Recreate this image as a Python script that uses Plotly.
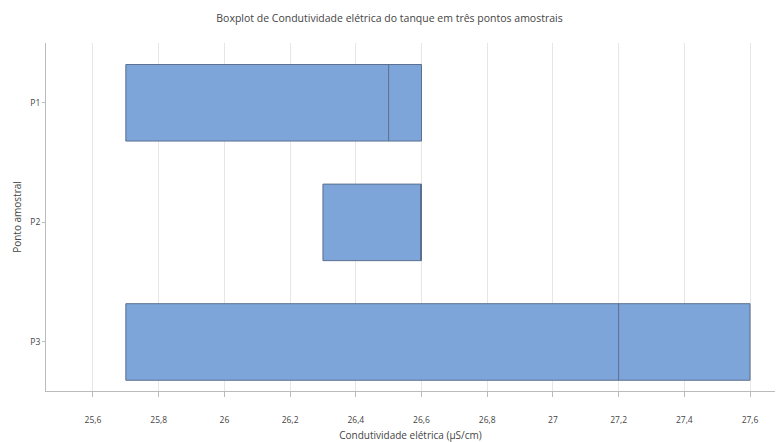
import plotly.graph_objects as go

categories = ["P1", "P2", "P3"]
q1 = [25.7, 26.3, 25.7]
median = [26.5, 26.6, 27.2]
q3 = [26.6, 26.6, 27.6]
x_ticks = [25.6, 25.8, 26.0, 26.2, 26.4, 26.6, 26.8, 27.0, 27.2, 27.4, 27.6]
x_tick_labels = ["25,6", "25,8", "26", "26,2", "26,4", "26,6", "26,8", "27", "27,2", "27,4", "27,6"]

fig = go.Figure()
fig.add_trace(go.Box(
    y=categories,
    q1=q1,
    median=median,
    q3=q3,
    lowerfence=q1,
    upperfence=q3,
    orientation="h",
    width=0.64,
    whiskerwidth=0,
    fillcolor="#7DA5D9",
    line=dict(color="#5B6F8E", width=1),
    boxpoints=False,
    hoverinfo="x",
    showlegend=False,
))

font_family = "Open Sans, Liberation Sans, sans-serif"
fig.update_layout(
    width=779,
    height=442,
    margin=dict(l=46, r=4, t=43, b=51),
    paper_bgcolor="white",
    plot_bgcolor="white",
    title=dict(
        text="Boxplot de Condutividade elétrica do tanque em três pontos amostrais",
        x=0.5, xanchor="center", y=0.958, yanchor="middle",
        font=dict(family=font_family, size=10.5, color="#444444"),
    ),
    xaxis=dict(
        range=[25.457, 27.676],
        tickvals=x_ticks,
        ticktext=x_tick_labels,
        automargin=False,
        showgrid=True,
        gridcolor="#E6E6E6",
        gridwidth=1,
        zeroline=False,
        showline=True,
        linecolor="#BBBBBB",
        linewidth=1,
        ticks="outside",
        ticklen=5,
        tickcolor="#BBBBBB",
        ticklabelstandoff=16,
        tickfont=dict(family=font_family, size=8.5, color="#444444"),
        title=dict(text="Condutividade elétrica (µS/cm)", standoff=7,
                   font=dict(family=font_family, size=10, color="#444444")),
        fixedrange=True,
    ),
    yaxis=dict(
        type="category",
        categoryorder="array",
        categoryarray=categories,
        range=[2.41, -0.5],
        automargin=False,
        showgrid=False,
        zeroline=False,
        showline=True,
        linecolor="#BBBBBB",
        linewidth=1,
        ticks="outside",
        ticklen=3,
        tickcolor="#BBBBBB",
        tickfont=dict(family=font_family, size=8.5, color="#444444"),
        title=dict(text="Ponto amostral", standoff=6,
                   font=dict(family=font_family, size=10, color="#444444")),
        fixedrange=True,
    ),
)

fig.write_html(
    "out.html",
    config={"displayModeBar": False},
    post_script="document.body.style.margin='0';document.body.style.overflow='hidden';",
)
